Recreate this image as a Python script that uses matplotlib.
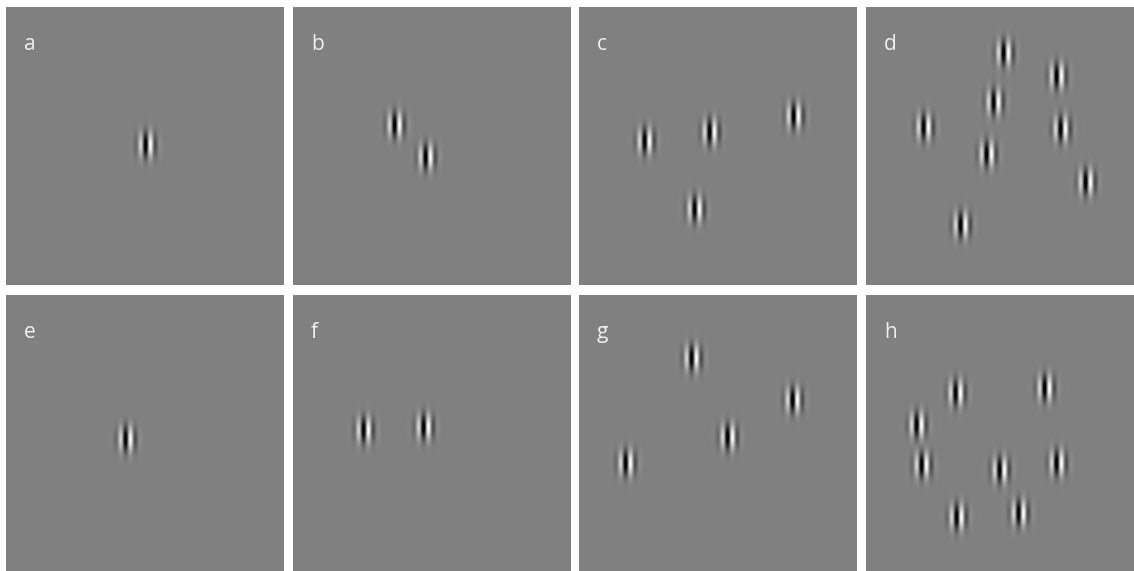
import numpy as np
import matplotlib
matplotlib.use("Agg")
import matplotlib.pyplot as plt

# Panel labels and Gabor patch centres (x, y) in panel pixel units (origin top-left)
labels = ["a", "b", "c", "d", "e", "f", "g", "h"]
centers_a = [(141, 138)]
centers_b = [(103, 118), (134, 150)]
centers_c = [(67, 134), (132, 125), (216, 109), (117, 202)]
centers_d = [(139, 46), (192, 69), (129, 95), (59, 120), (196, 122), (122, 147), (221, 175), (96, 218)]
centers_e = [(121, 144)]
centers_f = [(72, 135), (132, 132)]
centers_g = [(114, 63), (215, 105), (150, 142), (48, 168)]
centers_h = [(91, 98), (180, 93), (52, 130), (57, 170), (135, 175), (192, 168), (92, 222), (154, 218)]
all_centers = [centers_a, centers_b, centers_c, centers_d,
               centers_e, centers_f, centers_g, centers_h]

W_FIG, H_FIG = 1134, 571
fig = plt.figure(figsize=(W_FIG / 100, H_FIG / 100), dpi=100)
fig.patch.set_facecolor("white")

col_lefts = [6, 293, 579, 866]
row_tops = [7, 295]
PW, PH = 278, 278

SIG_X, SIG_Y, LAM, AMP, SHIFT = 6.0, 8.5, 10.5, 150.0, 1.5
BG = 128.0

yy, xx = np.mgrid[0:PH, 0:PW] + 0.5

for i, (lab, cents) in enumerate(zip(labels, all_centers)):
    r, c = divmod(i, 4)
    left = col_lefts[c] / W_FIG
    bottom = 1 - (row_tops[r] + PH) / H_FIG
    ax = fig.add_axes([left, bottom, PW / W_FIG, PH / H_FIG])
    img = np.full((PH, PW), BG)
    for (cx, cy) in cents:
        env = np.exp(-((xx - cx) ** 2) / (2 * SIG_X ** 2) - ((yy - cy) ** 2) / (2 * SIG_Y ** 2))
        img -= AMP * env * np.cos(2 * np.pi * (xx - cx + SHIFT) / LAM)
    img = np.clip(np.round(img), 0, 255).astype(np.uint8)
    rgb = np.dstack([img, img, img])
    ax.imshow(rgb, extent=(0, PW, PH, 0), interpolation="nearest", aspect="auto")
    ax.set_xlim(0, PW)
    ax.set_ylim(PH, 0)
    ax.axis("off")
    ax.text(18, 43, lab, color="#f0f0f0", fontsize=15, family="Open Sans",
            ha="left", va="baseline")

fig.savefig("out.png", dpi=100)
